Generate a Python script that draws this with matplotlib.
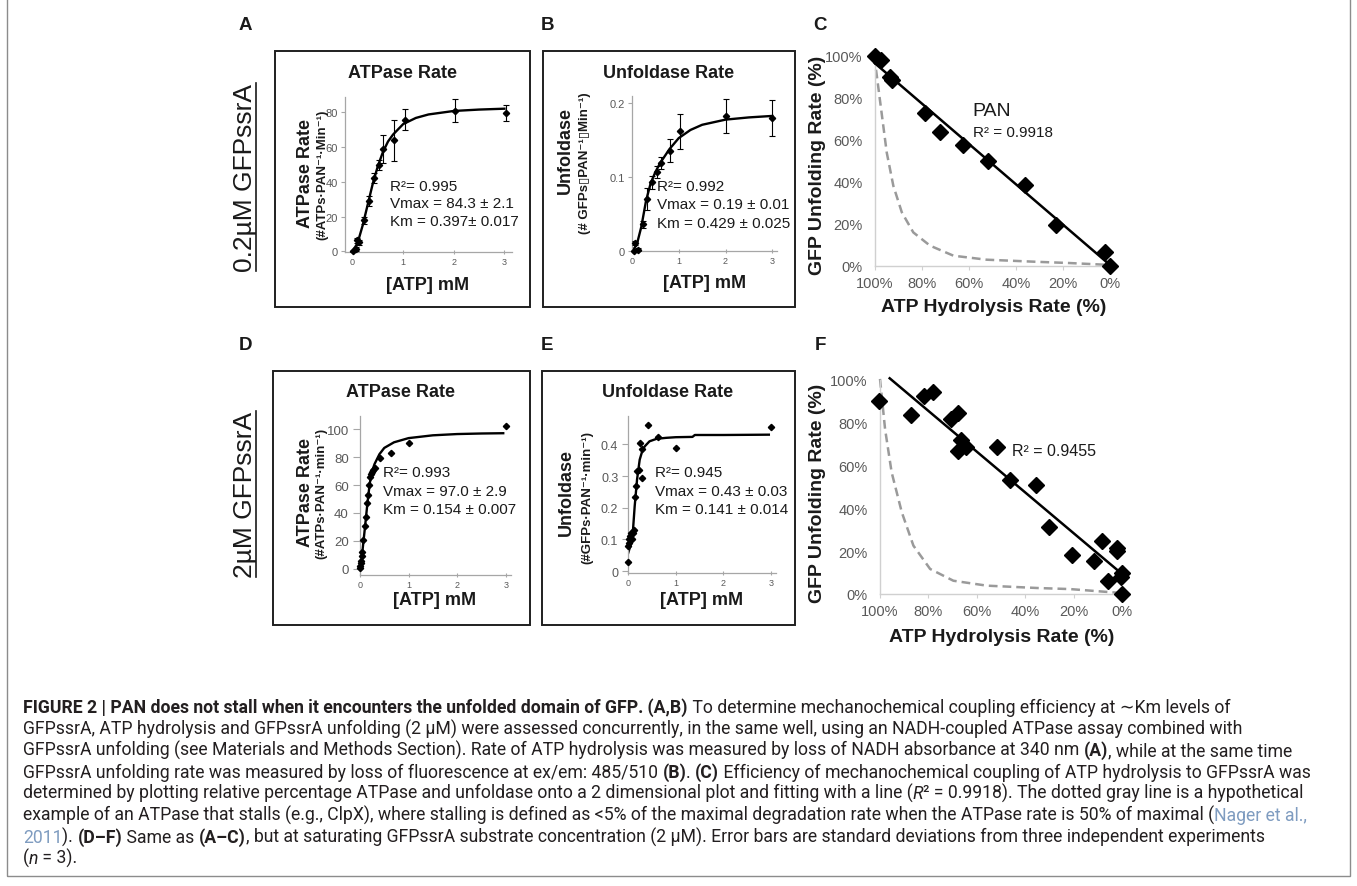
import matplotlib
matplotlib.use('Agg')
import matplotlib.pyplot as plt
from matplotlib.patches import Rectangle
from matplotlib.lines import Line2D

# ---------------- data ----------------
# Panel A : ATPase rate, 0.2 uM GFPssrA
a_atp = [0.0, 0.07, 0.09, 0.13, 0.23, 0.32, 0.42, 0.52, 0.61, 0.82, 1.03, 2.03, 3.04]
a_rate = [0.0, 1.5, 6.5, 5.3, 18.0, 28.8, 42.0, 49.5, 58.8, 63.6, 75.6, 80.6, 79.3]
a_err = [0.5, 1.0, 1.5, 1.5, 2.0, 3.0, 3.0, 3.0, 8.0, 12.0, 6.0, 6.6, 4.5]
a_fit_x = [0, 0.1, 0.2, 0.3, 0.4, 0.5, 0.6, 0.7, 0.8, 1.0, 1.25, 1.5, 2.0, 2.5, 3.0]
a_fit_y = [0, 5, 15, 27, 39, 49, 57, 63, 67, 73, 76.5, 78.5, 80.5, 81.3, 81.8]
a_yticks = [0, 20, 40, 60, 80]
a_stats = ["R\u00b2= 0.995", "Vmax = 84.3 \u00b1 2.1", "Km = 0.397\u00b1 0.017"]

# Panel B : Unfoldase rate, 0.2 uM GFPssrA
b_atp = [0.04, 0.07, 0.13, 0.23, 0.32, 0.42, 0.53, 0.62, 0.82, 1.02, 2.0, 3.0]
b_rate = [0.0, 0.011, 0.002, 0.036, 0.071, 0.093, 0.107, 0.119, 0.136, 0.162, 0.183, 0.180]
b_err = [0.001, 0.003, 0.002, 0.005, 0.015, 0.009, 0.008, 0.008, 0.016, 0.024, 0.023, 0.024]
b_fit_x = [0, 0.1, 0.2, 0.3, 0.4, 0.5, 0.6, 0.8, 1.0, 1.25, 1.5, 2.0, 2.5, 3.0]
b_fit_y = [0, 0.008, 0.033, 0.068, 0.092, 0.107, 0.119, 0.138, 0.153, 0.164, 0.171, 0.178, 0.181, 0.183]
b_yticks = [0, 0.1, 0.2]
b_yticklabels = ["0", "0.1", "0.2"]
b_stats = ["R\u00b2= 0.992", "Vmax = 0.19 \u00b1 0.01", "Km = 0.429 \u00b1 0.025"]

# Panel D : ATPase rate, 2 uM GFPssrA
d_atp = [0.0, 0.01, 0.02, 0.03, 0.04, 0.05, 0.07, 0.1, 0.12, 0.15, 0.17, 0.19, 0.21, 0.22,
         0.24, 0.27, 0.3, 0.41, 0.63, 1.0, 3.0]
d_rate = [0.5, 2, 4, 6, 9, 12, 21, 31, 37, 47, 53, 60, 66, 68, 69.5, 71, 72.5, 79, 83, 90, 102]
d_fit_x = [0, 0.03, 0.06, 0.1, 0.15, 0.2, 0.25, 0.3, 0.4, 0.5, 0.7, 1.0, 1.5, 2.0, 2.5, 2.95]
d_fit_y = [0, 6, 16, 29, 46, 61, 70, 75, 82, 86.5, 90.5, 93.5, 95.5, 96.4, 96.8, 97]
d_yticks = [0, 20, 40, 60, 80, 100]
d_stats = ["R\u00b2= 0.993", "Vmax = 97.0 \u00b1 2.9", "Km = 0.154 \u00b1 0.007"]

# Panel E : Unfoldase rate, 2 uM GFPssrA
e_atp = [0.0, 0.01, 0.02, 0.03, 0.05, 0.06, 0.08, 0.1, 0.13, 0.15, 0.17, 0.19, 0.22, 0.25,
         0.29, 0.3, 0.42, 0.63, 1.0, 3.0]
e_rate = [0.03, 0.08, 0.09, 0.10, 0.11, 0.12, 0.10, 0.12, 0.13, 0.235, 0.27, 0.315, 0.32, 0.405,
          0.295, 0.385, 0.46, 0.425, 0.39, 0.455]
e_fit_x = [0, 0.05, 0.1, 0.14, 0.19, 0.245, 0.3, 0.35, 0.45, 0.6, 0.8, 1.0, 1.35, 1.4, 2.0, 2.95]
e_fit_y = [0.055, 0.08, 0.12, 0.205, 0.29, 0.352, 0.38, 0.394, 0.41, 0.418, 0.421, 0.423, 0.424,
           0.43, 0.43, 0.431]
e_yticks = [0, 0.1, 0.2, 0.3, 0.4]
e_yticklabels = ["0", "0.1", "0.2", "0.3", "0.4"]
e_stats = ["R\u00b2= 0.945", "Vmax = 0.43 \u00b1 0.03", "Km = 0.141 \u00b1 0.014"]

kin_xticks = [0, 1, 2, 3]

# Panel C : coupling, 0.2 uM
c_atp = [100, 97.5, 93.5, 92.8, 78.7, 72.3, 62.4, 51.8, 36.2, 23.0, 2.1, 0.0]
c_unf = [100, 98, 90, 88.5, 72.7, 64.0, 57.8, 50.1, 38.7, 19.7, 6.5, 0.0]
c_fit_x = [100, 0]
c_fit_y = [96.5, 0.5]
c_dash_x = [100, 99.6, 97.2, 95, 92.2, 88.6, 83.7, 76.6, 66.6, 52.5, 31.2, 17, 0]
c_dash_y = [100, 93.8, 73, 54, 38.2, 25.6, 16, 9.7, 4.9, 3.0, 2.0, 1.4, 0.5]

# Panel F : coupling, 2 uM
f_atp = [100.3, 87.3, 81.7, 78, 70.8, 67.9, 66.7, 67.9, 64.5, 51.8, 46.3, 35.6, 30, 20.5,
         11.4, 8.4, 2.2, 2.0, 0.0, 0.5, 5.9, 0.0]
f_unf = [90.3, 83.8, 92.4, 94.2, 81.8, 84.6, 72.1, 67.0, 68.8, 68.8, 53.4, 51.1, 31.5, 18.2,
         15.6, 24.9, 21.4, 20, 9.8, 7.8, 5.9, 0.0]
f_fit_x = [96, 0.8]
f_fit_y = [100.8, 10.1]
f_dash_x = [100, 97.9, 95.2, 91, 86.2, 79.3, 69.7, 55.9, 35, 21.5, 0.8]
f_dash_y = [100.5, 77, 56.9, 38.2, 22.6, 11.7, 6.2, 3.9, 2.8, 2.3, 0.5]

pct_ticks = [0, 20, 40, 60, 80, 100]
pct_labels = ["0%", "20%", "40%", "60%", "80%", "100%"]

# ---------------- figure ----------------
W, H = 1357, 887
fig = plt.figure(figsize=(W / 100, H / 100), dpi=100)
fig.patch.set_facecolor('white')

SANS = ['Liberation Sans', 'DejaVu Sans']
plt.rcParams['font.family'] = SANS
CAPFONT = dict(family=['Roboto', 'Liberation Sans', 'DejaVu Sans'])


def fx(px):
    return px / W


def fy(py):
    return 1 - py / H


def ax_at(l, t, r, b):
    return fig.add_axes([fx(l), fy(b), (r - l) / W, (b - t) / H])


def ftext(x, y, s, **kw):
    return fig.text(fx(x), fy(y), s, **kw)


def frame(l, t, r, b, ec='#1f1f1f', lw=1.4):
    fig.patches.append(Rectangle((fx(l), fy(b)), (r - l) / W, (b - t) / H,
                                 transform=fig.transFigure, fill=False, ec=ec, lw=lw))


# outer grey frame
fig.patches.append(Rectangle((fx(7), fy(877)), (1350 - 7) / W, 1.2,
                             transform=fig.transFigure, fill=False, ec='#8c8c8c', lw=1.0))

TXT = '#1a1a1a'
TICKC = '#595959'
SPINE = '#a6a6a6'


def style_kin(ax, xlim, ylim, yticks, ylabels, ysize):
    ax.set_xlim(*xlim)
    ax.set_ylim(*ylim)
    ax.set_xticks(kin_xticks)
    ax.set_xticklabels([str(v) for v in kin_xticks])
    ax.set_yticks(yticks)
    ax.set_yticklabels(ylabels)
    for s in ['top', 'right']:
        ax.spines[s].set_visible(False)
    for s in ['left', 'bottom']:
        ax.spines[s].set_color(SPINE)
        ax.spines[s].set_linewidth(0.9)
    ax.tick_params(axis='x', length=3, direction='inout', color=SPINE, width=0.8,
                   labelsize=6.5, labelcolor=TICKC, pad=2)
    ax.tick_params(axis='y', length=3, direction='out', color=SPINE, width=0.8,
                   labelsize=ysize, labelcolor=TICKC, pad=2)
    ax.patch.set_alpha(0)


def kin_text(title_xy, title, ylab_xy, ylab, sub_xy, sub, xl_xy, stats_xy, stats, sub_size=9.5):
    ftext(*title_xy, title, ha='center', va='center', fontsize=13, fontweight='bold', color=TXT)
    ftext(*ylab_xy, ylab, ha='center', va='center', rotation=90, fontsize=13,
          fontweight='bold', color=TXT)
    ftext(*sub_xy, sub, ha='center', va='center', rotation=90, fontsize=sub_size,
          fontweight='bold', color=TXT)
    ftext(*xl_xy, "[ATP] mM", ha='center', va='center', fontsize=13, fontweight='bold', color=TXT)
    x0, ys = stats_xy
    for s, yy in zip(stats, ys):
        ftext(x0, yy, s, ha='left', va='center', fontsize=11, color=TXT)


# ---------- Panel A ----------
frame(275, 52, 530, 308)
axA = ax_at(345, 98, 512, 253)
axA.plot(a_fit_x, a_fit_y, color='black', lw=1.7, zorder=2)
axA.errorbar(a_atp, a_rate, yerr=a_err, fmt='none', ecolor='black', elinewidth=0.8,
             capsize=2.2, capthick=0.8, zorder=3)
axA.plot(a_atp, a_rate, 'D', color='black', ms=3.2, zorder=4, clip_on=False)
style_kin(axA, (-0.15, 3.15), (-0.3, 88.5), a_yticks, [str(v) for v in a_yticks], 8)
kin_text((402, 73), "ATPase Rate", (305, 173), "ATPase Rate", (322, 175),
         "(#ATPs\u00b7PAN\u207b\u00b9\u00b7Min\u207b\u00b9)", (428, 285),
         (390, [187, 204, 222]), a_stats)

# ---------- Panel B ----------
frame(543, 52, 795, 308)
axB = ax_at(632, 97, 777, 252)
axB.plot(b_fit_x, b_fit_y, color='black', lw=1.7, zorder=2)
axB.errorbar(b_atp, b_rate, yerr=b_err, fmt='none', ecolor='black', elinewidth=0.8,
             capsize=2.2, capthick=0.8, zorder=3)
axB.plot(b_atp, b_rate, 'D', color='black', ms=3.2, zorder=4, clip_on=False)
style_kin(axB, (0, 3.1), (0, 0.21), b_yticks, b_yticklabels, 8)
kin_text((669, 73), "Unfoldase Rate", (565, 150), "Unfoldase", (585, 163),
         "(# GFPs\u25afPAN\u207b\u00b9\u25afMin\u207b\u00b9)", (705, 283),
         (657, [187, 205, 224]), b_stats)

# ---------- Panel D ----------
frame(273, 372, 530, 626)
axD = ax_at(360, 417, 511, 576)
axD.plot(d_fit_x, d_fit_y, color='black', lw=1.7, zorder=2)
axD.plot(d_atp, d_rate, 'D', color='black', ms=3.2, zorder=4, clip_on=False)
style_kin(axD, (0, 3.11), (-4.3, 109.3), d_yticks, [str(v) for v in d_yticks], 9.5)
axD.tick_params(axis='y', length=5, pad=3)
kin_text((401, 393), "ATPase Rate", (305, 493), "ATPase Rate", (321, 493),
         "(#ATPs\u00b7PAN\u207b\u00b9\u00b7min\u207b\u00b9)", (435, 601),
         (383, [473, 492, 510]), d_stats)

# ---------- Panel E ----------
frame(542, 372, 795, 626)
axE = ax_at(628, 417, 776, 574)
axE.plot(e_fit_x, e_fit_y, color='black', lw=1.7, zorder=2)
axE.plot(e_atp, e_rate, 'D', color='black', ms=3.2, zorder=4, clip_on=False)
style_kin(axE, (0, 3.1), (-0.006, 0.49), e_yticks, e_yticklabels, 9)
axE.tick_params(axis='y', length=4, pad=3)
kin_text((668, 393), "Unfoldase Rate", (566, 493), "Unfoldase", (587, 498),
         "(#GFPs\u00b7PAN\u207b\u00b9\u00b7min\u207b\u00b9)", (702, 601),
         (655, [473, 492, 510]), e_stats)


# ---------- coupling panels ----------
def style_cpl(ax, xlim):
    ax.set_xlim(*xlim)
    ax.set_ylim(0, 100)
    ax.set_xticks(pct_ticks)
    ax.set_xticklabels(pct_labels)
    ax.set_yticks(pct_ticks)
    ax.set_yticklabels(pct_labels)
    for s in ['top', 'right']:
        ax.spines[s].set_visible(False)
    for s in ['left', 'bottom']:
        ax.spines[s].set_color('#d0d0d0')
        ax.spines[s].set_linewidth(1.0)
    ax.tick_params(axis='x', length=3, direction='out', color='#d0d0d0', labelsize=10.5,
                   labelcolor=TICKC, pad=4)
    ax.tick_params(axis='y', length=0, labelsize=10.5, labelcolor=TICKC, pad=9)
    ax.patch.set_alpha(0)


axC = ax_at(875, 57, 1113, 267)
axC.plot(c_dash_x, c_dash_y, color='#9a9a9a', lw=1.8, dashes=(3.5, 2), zorder=2, clip_on=False)
axC.plot(c_fit_x, c_fit_y, color='black', lw=1.8, zorder=3, clip_on=False)
axC.plot(c_atp, c_unf, 'D', color='black', ms=8.5, zorder=4, clip_on=False)
style_cpl(axC, (100, -1.3))
ftext(972, 112, "PAN", ha='left', va='center', fontsize=14, color=TXT)
ftext(973, 133, "R\u00b2 = 0.9918", ha='left', va='center', fontsize=11, color=TXT)
ftext(818, 165, "GFP Unfolding Rate (%)", ha='center', va='center', rotation=90,
      fontsize=14, fontweight='bold', color=TXT)
ftext(994, 308, "ATP Hydrolysis Rate (%)", ha='center', va='center', fontsize=14,
      fontweight='bold', color=TXT)

axF = ax_at(880, 381, 1125, 595)
axF.plot(f_dash_x, f_dash_y, color='#9a9a9a', lw=1.8, dashes=(3.5, 2), zorder=2, clip_on=False)
axF.plot(f_fit_x, f_fit_y, color='black', lw=1.8, zorder=3, clip_on=False)
axF.plot(f_atp, f_unf, 'D', color='black', ms=8.5, zorder=4, clip_on=False)
style_cpl(axF, (100, -1.2))
ftext(1012, 451, "R\u00b2 = 0.9455", ha='left', va='center', fontsize=11.5, color=TXT)
ftext(818, 493, "GFP Unfolding Rate (%)", ha='center', va='center', rotation=90,
      fontsize=14, fontweight='bold', color=TXT)
ftext(1002, 638, "ATP Hydrolysis Rate (%)", ha='center', va='center', fontsize=14,
      fontweight='bold', color=TXT)

# ---------- panel letters ----------
for lab, (x, y) in zip("ABCDEF", [(245, 25), (547, 25), (820, 25),
                                   (245, 345), (547, 345), (820, 345)]):
    ftext(x, y, lab, ha='center', va='center', fontsize=13.5, fontweight='bold', color=TXT)

R = fig.canvas.get_renderer()

# ---------- row labels (underlined) ----------
for s, (x, y) in [("0.2\u00b5M GFPssrA", (245, 178)), ("2\u00b5M GFPssrA", (245, 495))]:
    t = ftext(x, y, s, ha='center', va='center', rotation=90, fontsize=19, color=TXT)
    bb = t.get_window_extent(R)
    xl = (bb.x1 - 1) / W
    fig.lines.append(Line2D([xl, xl], [bb.y0 / H, bb.y1 / H], transform=fig.transFigure,
                            color=TXT, lw=1.2))

# ---------- caption ----------
CAPC = '#231f20'
LINK = '#7f9cc0'
N, B, I, L = 'n', 'b', 'i', 'l'
cap_lines = [
    [("FIGURE 2 | PAN does not stall when it encounters the unfolded domain of GFP.", B),
     (" (A,B)", B), (" To determine mechanochemical coupling efficiency at \u223cKm levels of", N)],
    [("GFPssrA, ATP hydrolysis and GFPssrA unfolding (2 \u00b5M) were assessed concurrently, in the "
      "same well, using an NADH-coupled ATPase assay combined with", N)],
    [("GFPssrA unfolding (see Materials and Methods Section). Rate of ATP hydrolysis was measured "
      "by loss of NADH absorbance at 340 nm ", N), ("(A)", B), (", while at the same time", N)],
    [("GFPssrA unfolding rate was measured by loss of fluorescence at ex/em: 485/510 ", N),
     ("(B)", B), (". ", N), ("(C)", B),
     (" Efficiency of mechanochemical coupling of ATP hydrolysis to GFPssrA was", N)],
    [("determined by plotting relative percentage ATPase and unfoldase onto a 2 dimensional plot "
      "and fitting with a line (", N), ("R", I),
     ("\u00b2 = 0.9918). The dotted gray line is a hypothetical", N)],
    [("example of an ATPase that stalls (e.g., ClpX), where stalling is defined as <5% of the "
      "maximal degradation rate when the ATPase rate is 50% of maximal (", N),
     ("Nager et al.,", L)],
    [("2011", L), ("). ", N), ("(D\u2013F)", B), (" Same as ", N), ("(A\u2013C)", B),
     (", but at saturating GFPssrA substrate concentration (2 \u00b5M). Error bars are standard "
      "deviations from three independent experiments", N)],
    [("(", N), ("n", I), (" = 3).", N)],
]
cap_y = [708, 730, 751, 773, 794, 816, 838, 859]
cap_x0 = 23
cap_ends = [1315, 1283, 1306, 1318, 1334, 1346, 1300]


def seg_kw(kind, size):
    kw = dict(fontsize=size, color=CAPC)
    kw.update(CAPFONT)
    if kind == B:
        kw['fontweight'] = 'bold'
    if kind == I:
        kw['fontstyle'] = 'italic'
    if kind == L:
        kw['color'] = LINK
    return kw


def seg_width(txt, kw):
    t1 = fig.text(0, 0, 'x' + txt + 'x', **kw)
    t2 = fig.text(0, 0, 'xx', **kw)
    w = t1.get_window_extent(R).width - t2.get_window_extent(R).width
    t1.remove()
    t2.remove()
    return w


def line_width(segs, size):
    return sum(seg_width(t, seg_kw(k, size)) for t, k in segs)


# one caption font size, the largest that keeps every wrapped line inside its reference end
ratios = [(end - cap_x0) / line_width(segs, 10) for segs, end in zip(cap_lines, cap_ends)]
cap_size = 10 * min(ratios)

for segs, yc in zip(cap_lines, cap_y):
    x = cap_x0
    for txt, kind in segs:
        kw = seg_kw(kind, cap_size)
        fig.text(fx(x), fy(yc + 5), txt, ha='left', va='baseline', **kw)
        x += seg_width(txt, kw)

fig.savefig('out.png', dpi=100, facecolor='white')
